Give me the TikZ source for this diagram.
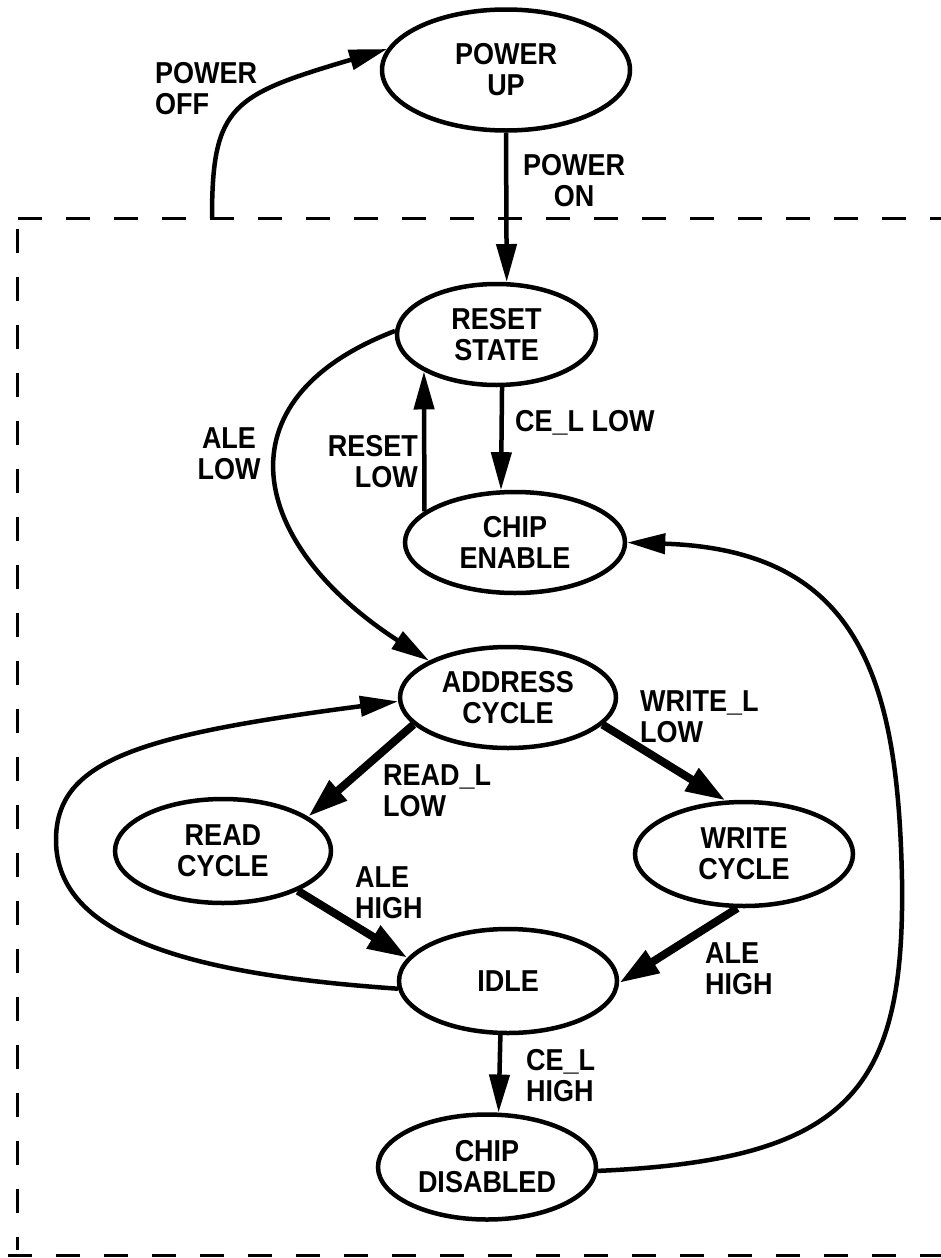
\documentclass[tikz,border=0pt]{standalone}
\usepackage{fontspec}
\usepackage{graphicx}
\setmainfont{Liberation Sans}
\usetikzlibrary{shapes.geometric,arrows.meta}
\newcommand\lblfont{\bfseries\fontsize{27}{31}\selectfont}
\newcommand\tl[1]{\scalebox{1}[1.12]{#1}}
\begin{document}
\begin{tikzpicture}[x=1pt,y=-1pt,
  state/.style={ellipse,draw,line width=4.5pt,inner sep=0pt,align=center,font=\lblfont},
  lbl/.style={inner sep=0pt,font=\lblfont},
  thinarrow/.style={line width=4.5pt,-{Triangle[length=38pt,width=20pt]}},
  thickarrow/.style={line width=8pt,-{Triangle[length=40pt,width=25pt]}},
  border/.style={line width=3pt,dash pattern=on 24pt off 24pt}]
\useasboundingbox (0,0) rectangle (941,1258);

% dashed boundary
\draw[border] (18,218) -- (941,218);
\draw[border] (17,229) -- (17,1250);
\draw[border] (8,1255) -- (941,1255);

% states
\node[state,minimum width=248pt,minimum height=121pt] (pu) at (506,70) {\tl{POWER}\\\tl{UP}};
\node[state,minimum width=199pt,minimum height=101pt] (rs) at (496.5,334.5) {\tl{RESET}\\\tl{STATE}};
\node[state,minimum width=220pt,minimum height=101pt] (ce) at (515,542.5) {\tl{CHIP}\\\tl{ENABLE}};
\node[state,minimum width=216pt,minimum height=101pt] (ac) at (508,697.5) {\tl{ADDRESS}\\\tl{CYCLE}};
\node[state,minimum width=216pt,minimum height=104pt] (rc) at (223,851) {\tl{READ}\\\tl{CYCLE}};
\node[state,minimum width=218pt,minimum height=104pt] (wc) at (744,854) {\tl{WRITE}\\\tl{CYCLE}};
\node[state,minimum width=218pt,minimum height=104pt] (id) at (508,981) {\tl{IDLE}};
\node[state,minimum width=218pt,minimum height=105pt] (cd) at (487,1167) {\tl{CHIP}\\\tl{DISABLED}};

% connectors
\coordinate (offstart) at (212,218);
\draw[thinarrow] (offstart) .. controls (212,105) and (232,95) .. (pu.170);
\draw[thinarrow] (pu.south) -- (rs.79);
\draw[thinarrow] (rs.276) -- (ce.105);
\draw[thinarrow] (ce.161) -- (rs.207);
\draw[thinarrow] (rs.178) .. controls (215,400) and (250,545) .. (ac.155);
\draw[thinarrow] (id.184) .. controls (200,975) and (56,940) .. (56,840)
                 .. controls (56,760) and (140,735) .. (ac.182);
\draw[thinarrow] (cd.358) .. controls (850,1160) and (905,1090) .. (902,880)
                 .. controls (898,680) and (860,550) .. (ce.0);
\draw[thickarrow] (ac.196) -- (rc.22);
\draw[thickarrow] (ac.344) -- (wc.109);
\draw[thickarrow] (rc.332) -- (id.167);
\draw[thickarrow] (wc.263) -- (id.359);
\draw[thinarrow] (id.262) -- (cd.78);

% labels
\node[lbl,anchor=north west,align=left] (lpoff) at (155,62) {\tl{POWER}\\\tl{OFF}};
\node[lbl,anchor=north,align=center] (lpon) at (574,154) {\tl{POWER}\\\tl{ON}};
\node[lbl,anchor=north west] (lcelow) at (515,410) {\tl{CE\_L LOW}};
\node[lbl,anchor=north east,align=right] (lrst) at (418,435) {\tl{RESET}\\\tl{LOW}};
\node[lbl,anchor=north,align=center] (lalelow) at (229,427) {\tl{ALE}\\\tl{LOW}};
\node[lbl,anchor=north west,align=left] (lread) at (383,764) {\tl{READ\_L}\\\tl{LOW}};
\node[lbl,anchor=north west,align=left] (lwrite) at (640,690) {\tl{WRITE\_L}\\\tl{LOW}};
\node[lbl,anchor=north west,align=left] (lalehi1) at (355,866) {\tl{ALE}\\\tl{HIGH}};
\node[lbl,anchor=north west,align=left] (lalehi2) at (705,942) {\tl{ALE}\\\tl{HIGH}};
\node[lbl,anchor=north west,align=left] (lcehigh) at (526,1049) {\tl{CE\_L}\\\tl{HIGH}};
\end{tikzpicture}
\end{document}
